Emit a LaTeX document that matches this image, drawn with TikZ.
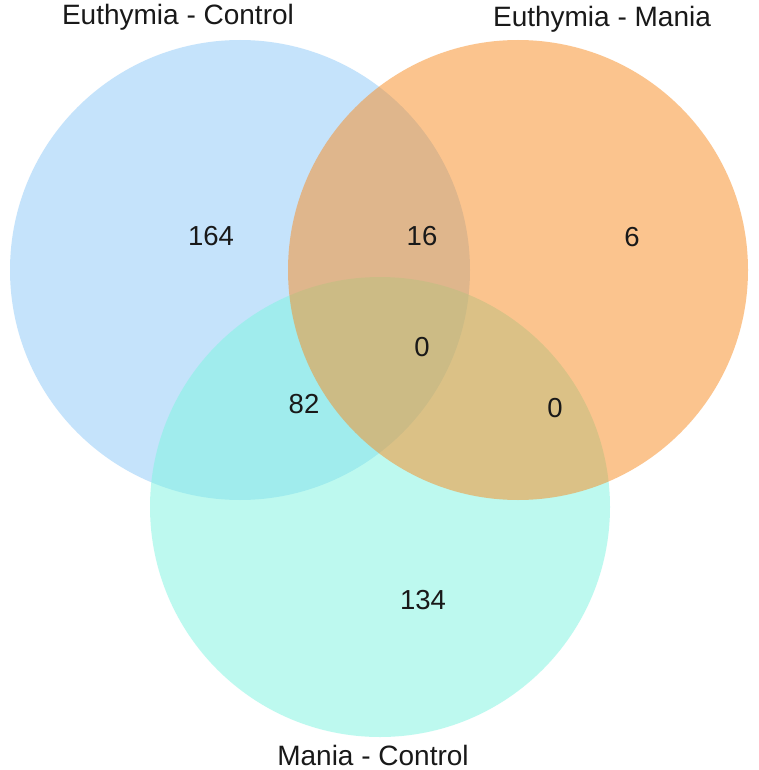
\documentclass[tikz,border=0pt]{standalone}
\usepackage{fontspec}
\setmainfont{Liberation Sans}
\definecolor{vblue}{RGB}{140,200,248}
\definecolor{vorange}{RGB}{249,139,31}
\definecolor{vcyan}{RGB}{125,245,225}
\definecolor{vtext}{RGB}{25,25,25}
\begin{document}
\begin{tikzpicture}[x=1pt,y=-1pt,
  setc/.style={circle, minimum size=460pt, inner sep=0pt, draw=none, fill opacity=0.5},
  lbl/.style={font=\fontsize{28}{30}\selectfont, inner sep=0pt, text=vtext},
  num/.style={font=\fontsize{27.5}{30}\selectfont, inner sep=0pt, text=vtext}]
\useasboundingbox (0,0) rectangle (758,770);
\fill[white] (0,0) rectangle (758,770);
\node[setc, fill=vblue] (ec) at (240,270) {};
\node[setc, fill=vcyan] (mc) at (380,507) {};
\node[setc, fill=vorange] (em) at (518,270) {};
\node[lbl, anchor=base] (lec) at (178,25) {Euthymia - Control};
\node[lbl, anchor=base] (lem) at (602,27) {Euthymia - Mania};
\node[lbl, anchor=base] (lmc) at (373,765) {Mania - Control};
\node[num] (n1) at (211,236) {164};
\node[num] (n2) at (422,236) {16};
\node[num] (n3) at (632,237) {6};
\node[num] (n4) at (422,347) {0};
\node[num] (n5) at (304,404) {82};
\node[num] (n6) at (555,408) {0};
\node[num] (n7) at (423,600) {134};
\end{tikzpicture}
\end{document}
